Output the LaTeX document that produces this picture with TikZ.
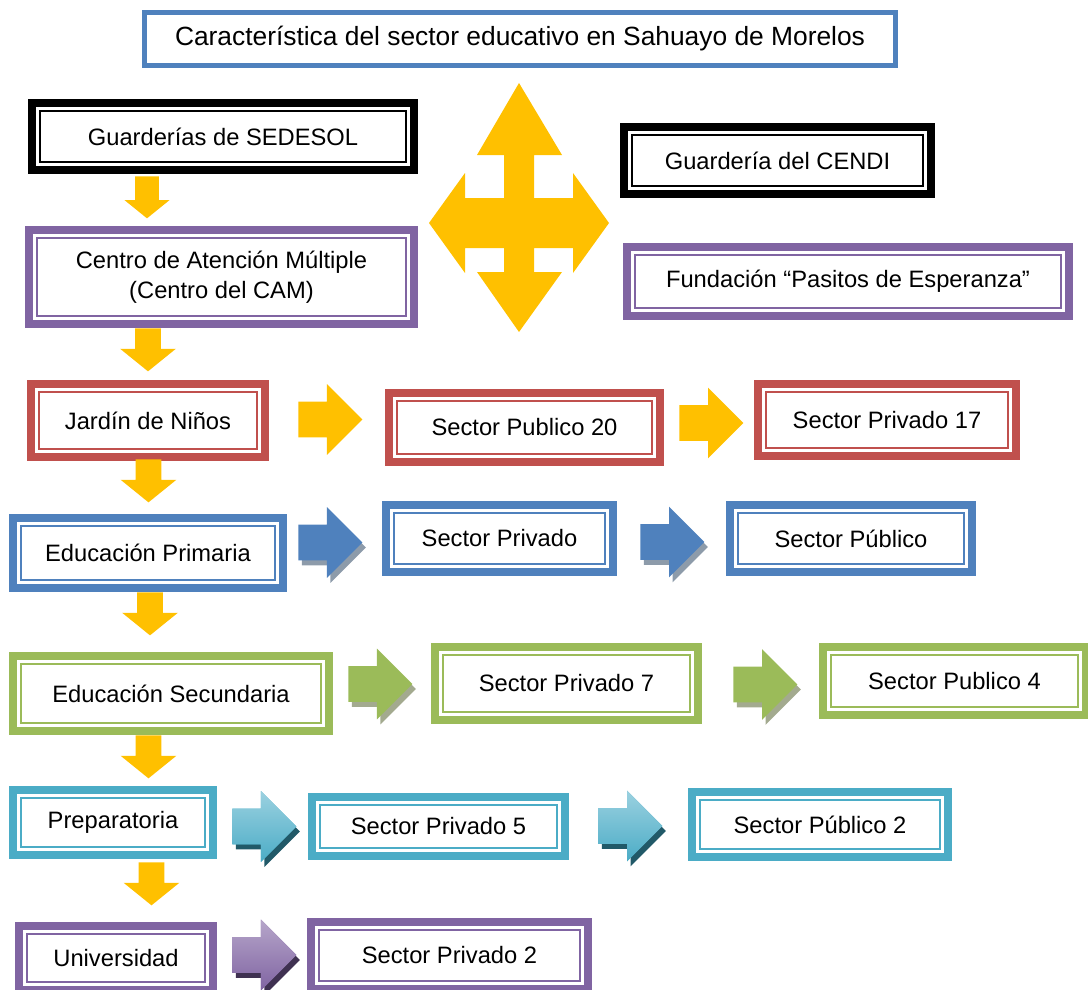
\documentclass[tikz,border=0pt]{standalone}
\usepackage{fontspec}
\setmainfont{Liberation Sans}
\usetikzlibrary{shapes.arrows, shadows}

\definecolor{azul}{HTML}{4F81BD}
\definecolor{rojo}{HTML}{C0504D}
\definecolor{verde}{HTML}{9BBB59}
\definecolor{morado}{HTML}{8064A2}
\definecolor{celeste}{HTML}{4BACC6}
\definecolor{amarillo}{HTML}{FFC000}
\definecolor{celesteclaro}{HTML}{9BD1E0}
\definecolor{moradoclaro}{HTML}{B6A6CA}
\definecolor{sombraazul}{HTML}{8D9BAA}
\definecolor{sombraverde}{HTML}{A3AA8F}
\definecolor{sombraceleste}{HTML}{215968}
\definecolor{sombramorado}{HTML}{3F3151}

\begin{document}
\begin{tikzpicture}[
            x = 0.02cm, y = -0.02cm, % one unit = one pixel
            font = \fontsize{13.5}{17}\selectfont,
            caja/.style = {
                draw = #1,
                line width = 4.5pt,
                fill = white,
                inner sep = 0pt,
                outer sep = 0pt, % anchors on the path
                align = center
            },
            bajada/.style = {
                single arrow,
                fill = amarillo,
                inner xsep = 0pt,
                inner ysep = 0.25cm, % half the shaft
                minimum height = 0.86cm, % length
                single arrow head extend = 0.3cm,
                single arrow tip angle = 102,
                rotate = -90,
                anchor = tail
            },
            avance/.style = {
                single arrow,
                fill = #1,
                inner xsep = 0pt,
                inner ysep = 0.35cm,
                minimum height = 1.28cm,
                single arrow head extend = 0.35cm,
                anchor = tail
            },
            sombra/.style = {
                general shadow = {fill = #1, shadow xshift = 0.07cm, shadow yshift = -0.1cm}
            }
        ]

        \useasboundingbox (0,0) rectangle (1088,990);

        % title
        \node[caja=azul, line width=2.8pt, minimum width=15.02cm, minimum height=1.06cm,
              font=\fontsize{15}{18}\selectfont] (titulo) at (520,39)
              {Característica del sector educativo en Sahuayo de Morelos};

        % left column
        \node[caja=black, minimum width=7.64cm, minimum height=1.34cm] (sedesol) at (223,136.5) {Guarderías de SEDESOL};
        \node[caja=morado, minimum width=7.7cm, minimum height=1.88cm] (cam) at (221.5,277) {Centro de Atención Múltiple\\(Centro del CAM)};
        \node[caja=rojo, minimum width=4.68cm, minimum height=1.46cm] (jardin) at (148,420.5) {Jardín de Niños};
        \node[caja=azul, minimum width=5.4cm, minimum height=1.4cm] (primaria) at (148,553) {Educación Primaria};
        \node[caja=verde, minimum width=6.32cm, minimum height=1.5cm] (secundaria) at (171,693.5) {Educación Secundaria};
        \node[caja=celeste, minimum width=4cm, minimum height=1.3cm] (prepa) at (113,822.5) {Preparatoria};
        \node[caja=morado, minimum width=3.88cm, minimum height=1.28cm] (univ) at (116,958) {Universidad};

        % right side
        \node[caja=black, minimum width=6.14cm, minimum height=1.34cm] (cendi) at (777.5,160.5) {Guardería del CENDI};
        \node[caja=morado, minimum width=8.84cm, minimum height=1.38cm] (pasitos) at (848,281.5) {Fundación “Pasitos de Esperanza”};
        \node[caja=rojo, minimum width=5.42cm, minimum height=1.38cm] (pub20) at (524.5,427.5) {Sector Publico 20};
        \node[caja=rojo, minimum width=5.16cm, minimum height=1.44cm] (priv17) at (887,420) {Sector Privado 17};
        \node[caja=azul, minimum width=4.54cm, minimum height=1.34cm] (privprim) at (499.5,538.5) {Sector Privado};
        \node[caja=azul, minimum width=4.84cm, minimum height=1.34cm] (pubprim) at (851,538.5) {Sector Público};
        \node[caja=verde, minimum width=5.26cm, minimum height=1.46cm] (priv7) at (566.5,683.5) {Sector Privado 7};
        \node[caja=verde, minimum width=5.26cm, minimum height=1.36cm] (pub4) at (954.5,681) {Sector Publico 4};
        \node[caja=celeste, minimum width=5.06cm, minimum height=1.18cm] (priv5) at (438.5,826.5) {Sector Privado 5};
        \node[caja=celeste, minimum width=5.12cm, minimum height=1.3cm] (pub2) at (820,824.5) {Sector Público 2};
        \node[caja=morado, minimum width=5.54cm, minimum height=1.34cm] (priv2) at (449.5,955.5) {Sector Privado 2};

        % thin inner frame
        \foreach \n/\c in {sedesol/black, cendi/black, cam/morado, pasitos/morado, jardin/rojo, pub20/rojo,
                           priv17/rojo, primaria/azul, privprim/azul, pubprim/azul, secundaria/verde,
                           priv7/verde, pub4/verde, prepa/celeste, priv5/celeste, pub2/celeste,
                           univ/morado, priv2/morado}
            \draw[\c, line width=1.1pt] ([shift={(0.16cm,0.16cm)}]\n.south west)
                rectangle ([shift={(-0.16cm,-0.16cm)}]\n.north east);

        % arrows down the left column
        \node[bajada, inner ysep=0.23cm, single arrow head extend=0.21cm, minimum height=0.84cm] (b1) at (147,176) {};
        \node[bajada] (b2) at (148,328) {};
        \node[bajada] (b3) at (148.5,459) {};
        \node[bajada] (b4) at (150,592) {};
        \node[bajada] (b5) at (148.5,735) {};
        \node[bajada] (b6) at (151.5,862) {};

        % arrows to the right
        \node[avance=amarillo] (r1) at (298,419.5) {};
        \node[avance=amarillo] (r2) at (679,423) {};
        \node[avance=azul, sombra=sombraazul] (r3) at (298,542.5) {};
        \node[avance=azul, sombra=sombraazul] (r4) at (640,542) {};
        \node[avance=verde, sombra=sombraverde] (r5) at (348,684) {};
        \node[avance=verde, sombra=sombraverde] (r6) at (733,684.5) {};
        \node[avance=celeste, top color=celesteclaro, bottom color=celeste, sombra=sombraceleste] (r7) at (232,826.5) {};
        \node[avance=celeste, top color=celesteclaro, bottom color=celeste, sombra=sombraceleste] (r8) at (598,826) {};
        \node[avance=morado, top color=moradoclaro, bottom color=morado, sombra=sombramorado] (r9) at (232,955) {};

        % four way arrow
        \fill[amarillo] (519,83) -- (562,155) -- (534,155) -- (534,198) -- (573,198) -- (573,173)
            -- (609,223) -- (573,273) -- (573,248) -- (534,248) -- (534,272) -- (562,272)
            -- (519,332) -- (477,272) -- (504,272) -- (504,248) -- (465,248) -- (465,273)
            -- (429,223) -- (465,173) -- (465,198) -- (504,198) -- (504,155) -- (477,155) -- cycle;

    \end{tikzpicture}
\end{document}
